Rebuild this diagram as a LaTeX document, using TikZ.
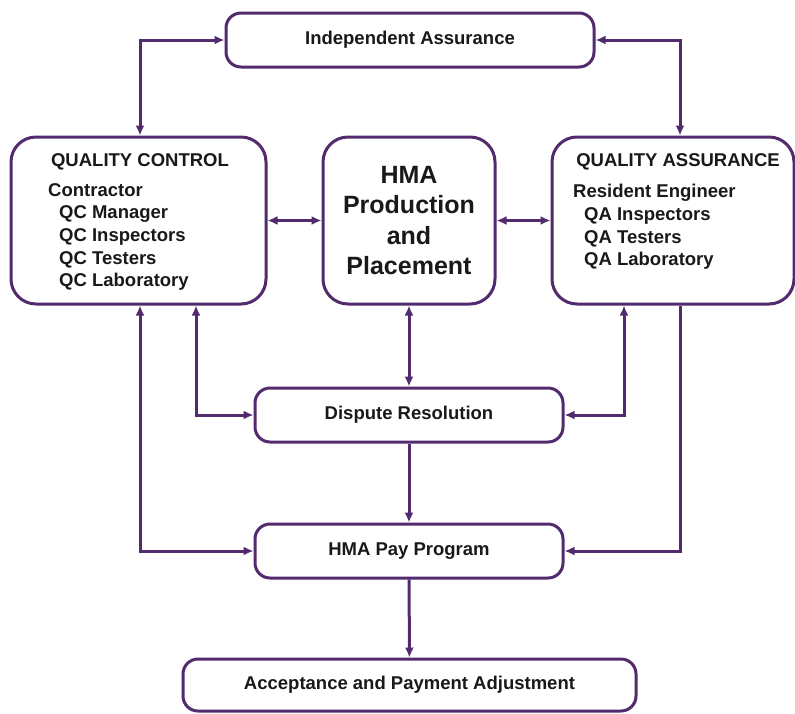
\documentclass[tikz,border=0pt]{standalone}
\usepackage{fontspec}
\setmainfont{Liberation Sans}
\usetikzlibrary{arrows.meta}
\definecolor{plum}{RGB}{82,42,110}
\definecolor{ink}{RGB}{25,25,25}

\begin{document}
\begin{tikzpicture}[x=1pt,y=-1pt,
  box/.style={draw=plum,line width=3pt,rounded corners=15pt,fill=white,text=ink,
    font=\bfseries\fontsize{18.5}{22.7}\selectfont,inner sep=0pt},
  bigbox/.style={box,rounded corners=25pt,minimum height=167pt},
  heading/.style={text=ink,font=\bfseries\fontsize{18.5}{22.7}\selectfont,inner sep=0pt},
  listtext/.style={heading,align=left},
  link/.style={draw=plum,line width=3pt,-{Latex[length=10pt,width=9pt]}},
  twoway/.style={link,{Latex[length=10pt,width=9pt]}-{Latex[length=10pt,width=9pt]}}]
  \useasboundingbox (0,0) rectangle (795,713);

  \node[box,minimum width=368pt,minimum height=54pt] (indep) at (410,40) {Independent Assurance};
  \node[bigbox,minimum width=255pt] (qc) at (138.5,220.5) {};
  \node[bigbox,minimum width=172pt,align=center,
    font=\bfseries\fontsize{25}{30.4}\selectfont] (hma) at (409,220.5) {HMA\\Production\\and\\Placement};
  \node[bigbox,minimum width=242pt] (qa) at (673,220.5) {};
  \node[box,minimum width=308pt,minimum height=54pt] (dispute) at (409,415) {Dispute Resolution};
  \node[box,minimum width=308pt,minimum height=54pt] (pay) at (409,551) {HMA Pay Program};
  \node[box,minimum width=453pt,minimum height=52pt] (accept) at (409.5,685) {Acceptance and Payment Adjustment};

  \node[heading,anchor=base] (qchead) at (140,166) {QUALITY CONTROL};
  \node[listtext,anchor=north west] (qclist) at (48,183)
    {Contractor\\\hspace*{11pt}QC Manager\\\hspace*{11pt}QC Inspectors\\\hspace*{11pt}QC Testers\\\hspace*{11pt}QC Laboratory};
  \node[heading,anchor=base] (qahead) at (678,166.5) {QUALITY ASSURANCE};
  \node[listtext,anchor=north west] (qalist) at (573,184)
    {Resident Engineer\\\hspace*{11pt}QA Inspectors\\\hspace*{11pt}QA Testers\\\hspace*{11pt}QA Laboratory};

  \coordinate (qcL) at (140,0);
  \coordinate (qcR) at (196,0);
  \coordinate (qaL) at (624,0);
  \coordinate (qaR) at (680,0);

  \draw[twoway] (qcL |- qc.north) |- (indep.west);
  \draw[twoway] (indep.east) -| (qaR |- qa.north);
  \draw[twoway] (qc.east) -- (hma.west);
  \draw[twoway] (hma.east) -- (qa.west);
  \draw[twoway] (hma.south) -- (dispute.north);
  \draw[twoway] (qcR |- qc.south) |- (dispute.west);
  \draw[twoway] (qaL |- qa.south) |- (dispute.east);
  \draw[twoway] (qcL |- qc.south) |- (pay.west);
  \draw[link] (qaR |- qa.south) |- (pay.east);
  \draw[link] (dispute) -- (pay);
  \draw[link] (pay) -- (accept);
\end{tikzpicture}
\end{document}
